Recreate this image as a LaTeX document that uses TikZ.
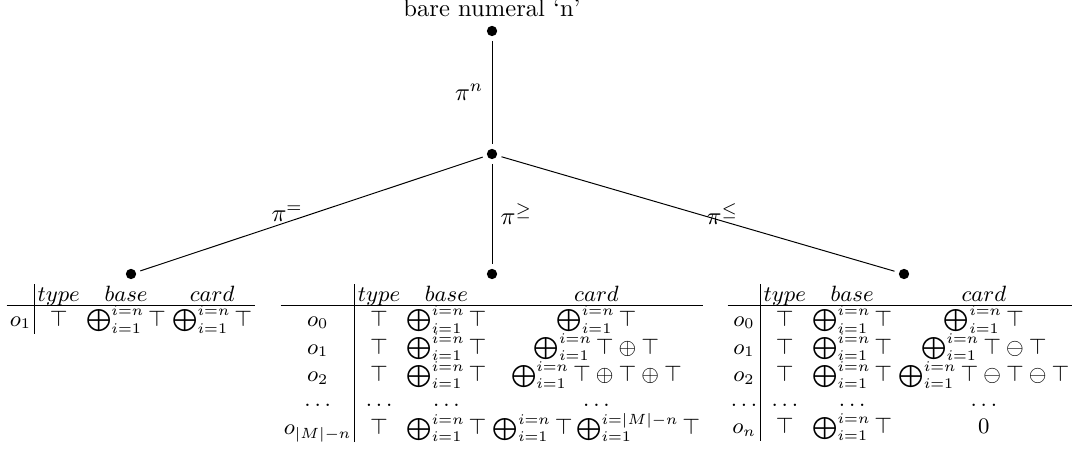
\documentclass[tikz,border=0pt]{standalone}
\usepackage{exscale}
\setlength{\tabcolsep}{1.3pt}
\renewcommand{\arraystretch}{0.9}
\newcommand{\bsum}{\bigoplus_{i=1}^{i=n}\top}
\begin{document}
\begin{tikzpicture}[x=0.4065pt,y=-0.4065pt,
  dot/.style={circle,fill,inner sep=0pt,minimum size=4.2pt},
  edge/.style={line width=0.4pt,shorten <=1.7pt,shorten >=1.7pt},
  tbl/.style={anchor=north,inner sep=0pt,font=\small}]
\useasboundingbox (0,0) rectangle (1072,449);
\node[dot] (r) at (492,31) {};
\node[above] (lbl) at (r.north) {bare numeral `n'};
\node[dot] (m) at (492,154) {};
\node[dot] (a) at (131,274) {};
\node[dot] (b) at (492,274) {};
\node[dot] (c) at (904,274) {};
\draw[edge] (r) -- node[left] (ln) {$\pi^n$} (m);
\draw[edge] (m) -- node[left] (le) {$\pi^=$} (a);
\draw[edge] (m) -- node[right] (lg) {$\pi^\geq$} (b);
\draw[edge] (m) -- node[right] (ll) {$\pi^\leq$} (c);
\node[tbl] (ta) at (131,284) {\begin{tabular}{c|ccc}
 & $type$ & $base$ & $card$\\[-1.5pt]\hline
$o_1$ & $\top$ & $\bsum$ & $\bsum$
\end{tabular}};
\node[tbl] (tb) at (492,284) {\begin{tabular}{c|ccc}
 & $type$ & $base$ & $card$\\[-1.5pt]\hline
$o_0$ & $\top$ & $\bsum$ & $\bsum$\\
$o_1$ & $\top$ & $\bsum$ & $\bsum\oplus\top$\\
$o_2$ & $\top$ & $\bsum$ & $\bsum\oplus\top\oplus\top$\\
$\dots$ & $\dots$ & $\dots$ & $\dots$\\
$o_{|M|-n}$ & $\top$ & $\bsum$ & $\bsum\bigoplus_{i=1}^{i=|M|-n}\top$
\end{tabular}};
\node[tbl] (tc) at (900,284) {\begin{tabular}{c|ccc}
 & $type$ & $base$ & $card$\\[-1.5pt]\hline
$o_0$ & $\top$ & $\bsum$ & $\bsum$\\
$o_1$ & $\top$ & $\bsum$ & $\bsum\ominus\top$\\
$o_2$ & $\top$ & $\bsum$ & $\bsum\ominus\top\ominus\top$\\
$\dots$ & $\dots$ & $\dots$ & $\dots$\\
$o_n$ & $\top$ & $\bsum$ & $0$
\end{tabular}};
\end{tikzpicture}
\end{document}
